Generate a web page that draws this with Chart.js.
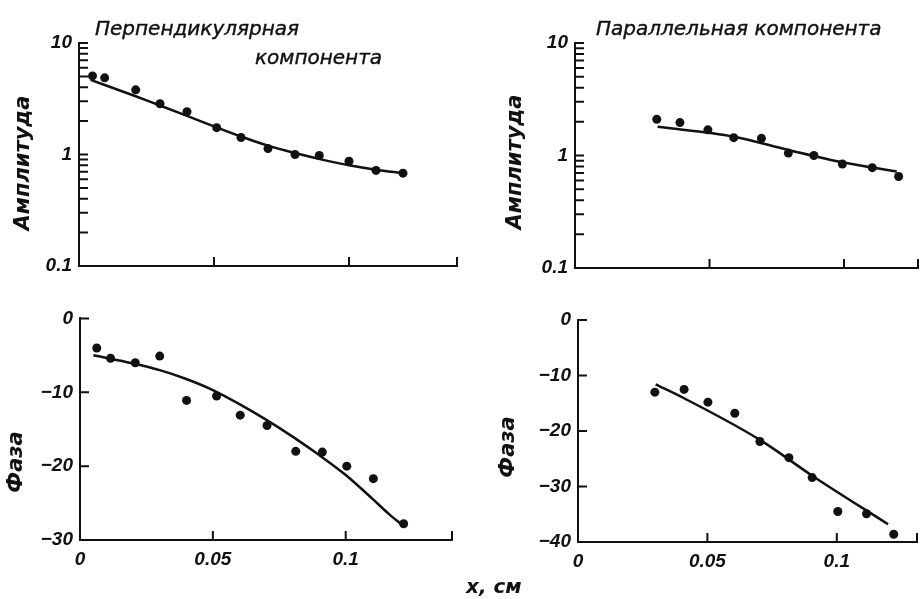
<!DOCTYPE html>
<html lang="ru">
<head>
<meta charset="utf-8">
<title>Амплитуда и фаза</title>
<script src="https://cdn.jsdelivr.net/npm/chart.js@4.4.1/dist/chart.umd.min.js"></script>
<style>
  body { margin: 0; background: #fff; }
  #wrap { position: relative; width: 923px; height: 599px; overflow: hidden; }
  canvas { position: absolute; }
  .lbl { position: absolute; font-family: "DejaVu Sans"; font-style: italic; color: #111; white-space: nowrap; line-height: 1; font-size: 20px; -webkit-text-stroke: 0.4px #111; }
  .rot { transform: translate(-50%, -50%) rotate(-90deg); font-weight: bold; font-size: 21px; -webkit-text-stroke: 0; }
</style>
</head>
<body>
<div id="wrap">
  <canvas id="ampPerp" width="470" height="300" style="left:0;top:0"></canvas>
  <canvas id="ampPar" width="453" height="300" style="left:470px;top:0"></canvas>
  <canvas id="phasePerp" width="470" height="299" style="left:0;top:300px"></canvas>
  <canvas id="phasePar" width="453" height="299" style="left:470px;top:300px"></canvas>

  <div class="lbl" style="left:95px;top:18px">Перпендикулярная</div>
  <div class="lbl" style="left:255px;top:47px">компонента</div>
  <div class="lbl" style="left:596px;top:18px">Параллельная компонента</div>
  <div class="lbl rot" style="left:22px;top:163px">Амплитуда</div>
  <div class="lbl rot" style="left:514px;top:162px">Амплитуда</div>
  <div class="lbl rot" style="left:15px;top:462px">Фаза</div>
  <div class="lbl rot" style="left:507px;top:447px">Фаза</div>
  <div class="lbl" style="left:466px;top:576px;font-weight:bold;-webkit-text-stroke:0">x, см</div>
</div>

<script>
const ink = "#111";

// оси
const xTicks = [0, 0.05, 0.1];
const ampTicks = [0.1, 1, 10];
const perpPhaseTicks = [0, -10, -20, -30];
const parPhaseTicks = [0, -10, -20, -30, -40];

// перпендикулярная компонента, амплитуда
const perpAmpX = [0.005, 0.0095, 0.021, 0.030, 0.040, 0.051, 0.060, 0.070, 0.080, 0.089, 0.100, 0.110, 0.120];
const perpAmpY = [5.07, 4.87, 3.8, 2.85, 2.42, 1.74, 1.42, 1.13, 1.0, 0.98, 0.87, 0.72, 0.68];
const perpAmpFitX = [0.0043, 0.02, 0.03, 0.04, 0.05, 0.06, 0.07, 0.08, 0.09, 0.10, 0.11, 0.12];
const perpAmpFitY = [4.67, 3.40, 2.75, 2.22, 1.79, 1.45, 1.20, 1.03, 0.90, 0.80, 0.73, 0.68];

// параллельная компонента, амплитуда
const parAmpX = [0.0304, 0.039, 0.0494, 0.059, 0.0693, 0.0793, 0.0888, 0.0994, 0.1105, 0.1203];
const parAmpY = [2.10, 1.96, 1.69, 1.44, 1.42, 1.05, 1.0, 0.84, 0.78, 0.65];
const parAmpFitX = [0.0307, 0.059, 0.0793, 0.0994, 0.1196];
const parAmpFitY = [1.80, 1.47, 1.12, 0.87, 0.72];

// перпендикулярная компонента, фаза
const perpPhaseX = [0.0063, 0.0115, 0.0208, 0.030, 0.0401, 0.0514, 0.0603, 0.0704, 0.0812, 0.0912, 0.1004, 0.1104, 0.1218];
const perpPhaseY = [-4.0, -5.4, -6.0, -5.1, -11.1, -10.5, -13.1, -14.5, -18.0, -18.1, -20.0, -21.7, -27.8];
const perpPhaseFitX = [0.005, 0.02, 0.03, 0.04, 0.05, 0.06, 0.07, 0.08, 0.09, 0.10, 0.11, 0.116, 0.121];
const perpPhaseFitY = [-5.0, -6.1, -7.0, -8.2, -9.7, -11.6, -13.7, -16.0, -18.5, -21.2, -24.4, -26.4, -27.9];

// параллельная компонента, фаза
const parPhaseX = [0.0297, 0.041, 0.0502, 0.0606, 0.0703, 0.0815, 0.0905, 0.1004, 0.1115, 0.122];
const parPhaseY = [-13.0, -12.5, -14.8, -16.8, -21.9, -24.8, -28.4, -34.5, -34.9, -38.6];
const parPhaseFitX = [0.030, 0.041, 0.0703, 0.0905, 0.1198];
const parPhaseFitY = [-11.6, -14.1, -21.6, -28.05, -36.8];

// мелкие деления логарифмической шкалы
const logMarks = [];
[0.1, 1].forEach(d => { for (let k = 1; k < 10; k++) logMarks.push(+(d * k).toFixed(2)); });
logMarks.push(10);

const tickFont = { family: "Liberation Sans", size: 19, style: "italic", weight: "bold" };

// засечки внутрь поля графика
const inwardTicks = {
  id: "inwardTicks",
  afterDraw(chart) {
    const { ctx, chartArea } = chart;
    const sx = chart.scales.x, sy = chart.scales.y;
    ctx.save();
    ctx.strokeStyle = ink;
    ctx.lineWidth = 2;
    ctx.beginPath();
    sx.ticks.concat([{ value: sx.max }]).forEach(t => {
      if (t.value === sx.min) return;
      const p = sx.getPixelForValue(t.value);
      ctx.moveTo(p, chartArea.bottom);
      ctx.lineTo(p, chartArea.bottom - 9);
    });
    sy.ticks.forEach(t => {
      if (t.value === sy.min) return;
      const p = sy.getPixelForValue(t.value);
      ctx.moveTo(chartArea.left, p);
      ctx.lineTo(chartArea.left + 9, p);
    });
    ctx.stroke();
    ctx.restore();
  }
};

function toPoints(xs, ys) {
  return xs.map((x, i) => ({ x: x, y: ys[i] }));
}

function makePanel(id, p) {
  return new Chart(document.getElementById(id), {
    type: "scatter",
    data: {
      datasets: [
        {
          data: toPoints(p.fitX, p.fitY),
          showLine: true,
          borderColor: ink,
          borderWidth: 2.5,
          pointRadius: 0,
          cubicInterpolationMode: "monotone"
        },
        {
          data: toPoints(p.x, p.y),
          pointRadius: 4.5,
          pointBackgroundColor: ink,
          pointBorderWidth: 0
        }
      ]
    },
    options: {
      responsive: false,
      animation: false,
      devicePixelRatio: 1,
      layout: { padding: { top: p.top, right: p.right, left: 0, bottom: 0 } },
      plugins: { legend: { display: false }, tooltip: { enabled: false } },
      scales: {
        x: {
          type: "linear",
          min: 0,
          max: p.xMax,
          grid: { display: false, drawTicks: false },
          border: { color: ink, width: 2 },
          afterBuildTicks: s => { s.ticks = xTicks.map(v => ({ value: v })); },
          afterFit: s => { s.height = p.xH; },
          ticks: { display: p.xLabels, padding: 8, color: ink, font: tickFont, callback: v => String(v) }
        },
        y: {
          type: p.log ? "logarithmic" : "linear",
          min: p.yMin,
          max: p.yMax,
          grid: { display: false, drawTicks: false },
          border: { color: ink, width: 2 },
          afterBuildTicks: s => { s.ticks = p.yMarks.map(v => ({ value: v })); },
          afterFit: s => { s.width = p.yW; },
          ticks: {
            autoSkip: false,
            padding: 7,
            color: ink,
            font: tickFont,
            callback: v => {
              if (!p.yLabels.includes(v)) return "";
              return v < 0 ? "\u2212" + Math.abs(v) : String(v);
            }
          }
        }
      }
    },
    plugins: [inwardTicks]
  });
}

window.addEventListener("load", () => {
  makePanel("ampPerp", {
    x: perpAmpX, y: perpAmpY, fitX: perpAmpFitX, fitY: perpAmpFitY,
    log: true, yMin: 0.1, yMax: 10, yMarks: logMarks, yLabels: ampTicks,
    xMax: 0.14, xLabels: false, top: 43, right: 13, xH: 34, yW: 79
  });
  makePanel("ampPar", {
    x: parAmpX, y: parAmpY, fitX: parAmpFitX, fitY: parAmpFitY,
    log: true, yMin: 0.1, yMax: 10, yMarks: logMarks, yLabels: ampTicks,
    xMax: 0.1275, xLabels: false, top: 43, right: 5, xH: 32, yW: 105
  });
  makePanel("phasePerp", {
    x: perpPhaseX, y: perpPhaseY, fitX: perpPhaseFitX, fitY: perpPhaseFitY,
    log: false, yMin: -30, yMax: 0, yMarks: perpPhaseTicks, yLabels: perpPhaseTicks,
    xMax: 0.14, xLabels: true, top: 18, right: 18, xH: 59, yW: 80
  });
  makePanel("phasePar", {
    x: parPhaseX, y: parPhaseY, fitX: parPhaseFitX, fitY: parPhaseFitY,
    log: false, yMin: -40, yMax: 0, yMarks: parPhaseTicks, yLabels: parPhaseTicks,
    xMax: 0.131, xLabels: true, top: 20, right: 6, xH: 57, yW: 108
  });
});
</script>
</body>
</html>
